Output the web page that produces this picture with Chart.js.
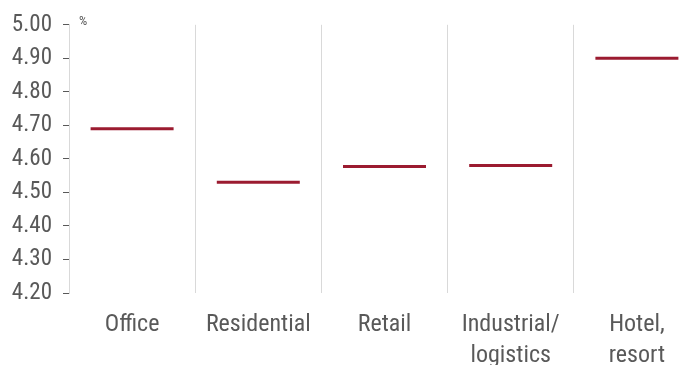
<!DOCTYPE html>
<html>
<head>
<meta charset="utf-8">
<script src="https://cdn.jsdelivr.net/npm/chart.js@4.4.0/dist/chart.umd.min.js"></script>
<style>
  html, body { margin: 0; padding: 0; background: #fff; overflow: hidden; }
  #wrap { width: 700px; height: 365px; }
</style>
</head>
<body>
<div id="wrap"><canvas id="myChart" width="700" height="365"></canvas></div>
<script>
const categories = ["Office", "Residential", "Retail", ["Industrial/", "logistics"], ["Hotel,", "resort"]];
const values = [4.69, 4.53, 4.577, 4.58, 4.90];
const yMin = 4.2;
const yMax = 5.0;
const yStep = 0.1;

const lineColor = "#9b1b30";
const textColor = "#595959";
const fontFamily = "'Roboto Condensed', 'Roboto', sans-serif";

const unitLabel = {
  id: "unitLabel",
  afterDraw(chart) {
    const c = chart.ctx;
    c.save();
    c.font = "13px " + fontFamily;
    c.fillStyle = textColor;
    c.textAlign = "left";
    c.textBaseline = "middle";
    c.fillText("%", chart.chartArea.left + 10, chart.chartArea.top - 3);
    c.restore();
  },
};

const ctx = document.getElementById("myChart");
new Chart(ctx, {
  type: "line",
  data: {
    labels: categories,
    datasets: [
      {
        data: values,
        showLine: false,
        pointStyle: "line",
        pointRadius: 41.5,
        pointHoverRadius: 41.5,
        borderWidth: 3,
        pointBorderWidth: 3,
        borderColor: lineColor,
        pointBorderColor: lineColor,
        backgroundColor: lineColor,
        clip: false,
      },
    ],
  },
  options: {
    responsive: false,
    animation: false,
    devicePixelRatio: 1,
    layout: { autoPadding: false, padding: { top: 24, right: 0, left: 0, bottom: 0 } },
    plugins: {
      legend: { display: false },
      tooltip: { enabled: false },
    },
    scales: {
      x: {
        offset: true,
        grid: {
          offset: true,
          color: "#d9d9d9",
          drawTicks: false,
        },
        border: { display: false },
        ticks: {
          color: textColor,
          padding: 16,
          maxRotation: 0,
          autoSkip: false,
          font: { family: fontFamily, size: 24, lineHeight: 1.3 },
        },
        afterFit(scale) {
          scale.height = 72;
          scale.paddingLeft = 0;
          scale.paddingRight = 0;
        },
      },
      y: {
        min: yMin,
        max: yMax,
        grid: {
          drawOnChartArea: false,
          drawTicks: true,
          tickLength: 6,
          tickColor: textColor,
        },
        border: { display: true, color: "#d9d9d9" },
        ticks: {
          stepSize: yStep,
          color: textColor,
          padding: 11,
          font: { family: fontFamily, size: 23 },
          callback: (v) => Number(v).toFixed(2),
        },
        afterFit(scale) {
          scale.width = 69;
        },
      },
    },
  },
  plugins: [unitLabel],
});
</script>
</body>
</html>
